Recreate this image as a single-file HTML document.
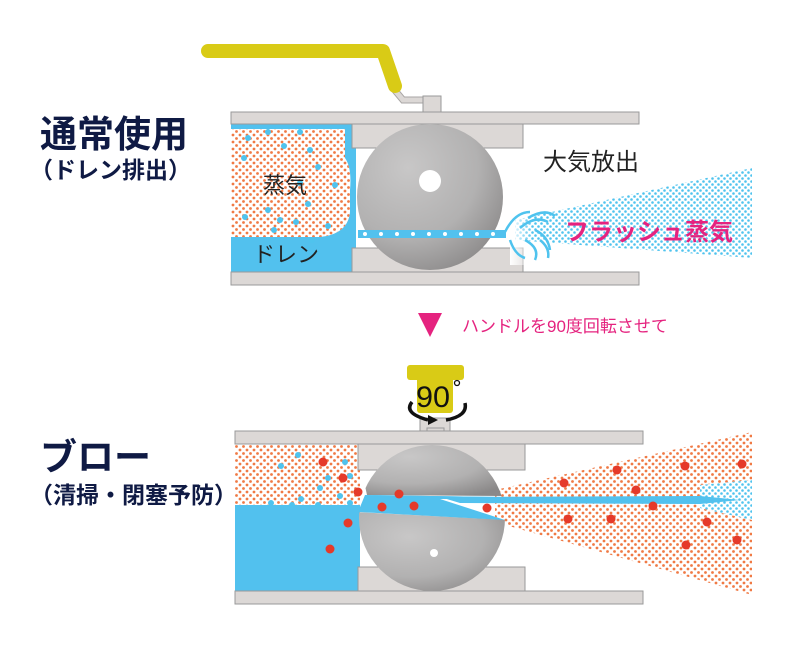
<!DOCTYPE html>
<html><head><meta charset="utf-8"><style>
html,body{margin:0;padding:0;background:#fff;}
svg{display:block;}
text{font-family:"Liberation Sans","Noto Sans CJK JP",sans-serif;}
</style></head><body>
<svg width="800" height="650" viewBox="0 0 800 650" xmlns="http://www.w3.org/2000/svg">
<defs>
<pattern id="od" width="7" height="7" patternUnits="userSpaceOnUse"><circle cx="2" cy="2" r="1.4" fill="#f07a45"/><circle cx="5.5" cy="5.5" r="1.4" fill="#f07a45"/></pattern>
<pattern id="bd" width="6" height="6" patternUnits="userSpaceOnUse"><circle cx="1.5" cy="1.5" r="1.3" fill="#4fc3ee"/><circle cx="4.5" cy="4.5" r="1.3" fill="#4fc3ee"/></pattern>
<radialGradient id="ball" cx="0.35" cy="0.3" r="0.8"><stop offset="0" stop-color="#c8c7c7"/><stop offset="0.6" stop-color="#b2b1b1"/><stop offset="1" stop-color="#8a8888"/></radialGradient>
<linearGradient id="fadeb" x1="0" x2="1"><stop offset="0" stop-color="#fff" stop-opacity="1"/><stop offset="0.25" stop-color="#fff" stop-opacity="0"/></linearGradient>
<clipPath id="bc"><circle cx="432" cy="518" r="73"/></clipPath>
</defs>

<text x="40" y="147" font-size="37" font-weight="bold" fill="#0f1a44">通常使用</text>
<text x="30" y="178" font-size="23" font-weight="bold" fill="#0f1a44">（ドレン排出）</text>
<text x="40" y="470" font-size="37" font-weight="bold" fill="#0f1a44">ブロー</text>
<text x="30" y="503" font-size="23" font-weight="bold" fill="#0f1a44">（清掃・閉塞予防）</text>

<!-- ===== TOP ===== -->
<path d="M393 88 L403 100 L430 100" fill="none" stroke="#a9a6a5" stroke-width="7"/>
<path d="M393 88 L403 100 L430 100" fill="none" stroke="#dcd8d6" stroke-width="5"/>
<rect x="423" y="96" width="18" height="16" fill="#dcd8d6" stroke="#999" stroke-width="1"/>
<path d="M208 51 L383 51 L395 86" fill="none" stroke="#d9cb16" stroke-width="14" stroke-linejoin="round" stroke-linecap="round"/>

<rect x="231" y="124" width="125" height="148" fill="#52c1ee"/>
<path d="M231 129 L345 129 L345 158 Q352 168 350 190 L350 212 Q348 234 320 237 L231 237 Z" fill="#fff"/>
<path d="M231 129 L345 129 L345 158 Q352 168 350 190 L350 212 Q348 234 320 237 L231 237 Z" fill="url(#od)"/>
<g fill="#4fc3ee">
<circle cx="248" cy="138" r="3"/><circle cx="268" cy="132" r="3"/><circle cx="284" cy="146" r="3"/><circle cx="300" cy="132" r="3"/><circle cx="310" cy="150" r="3"/><circle cx="318" cy="167" r="3"/><circle cx="300" cy="183" r="3"/><circle cx="308" cy="204" r="3"/><circle cx="335" cy="185" r="3"/><circle cx="268" cy="210" r="3"/><circle cx="280" cy="220" r="3"/><circle cx="296" cy="222" r="3"/><circle cx="245" cy="217" r="3"/><circle cx="274" cy="230" r="3"/><circle cx="328" cy="226" r="3"/><circle cx="244" cy="158" r="3"/><circle cx="312" cy="240" r="3"/>
</g>
<text x="263" y="193" font-size="22" fill="#222">蒸気</text>
<text x="253" y="262" font-size="22" fill="#222">ドレン</text>

<rect x="231" y="112" width="408" height="12" fill="#dcd8d6" stroke="#999" stroke-width="1"/>
<rect x="231" y="272" width="408" height="13" fill="#dcd8d6" stroke="#999" stroke-width="1"/>
<rect x="352" y="124" width="171" height="24" fill="#dcd8d6" stroke="#999" stroke-width="1"/>
<rect x="352" y="248" width="171" height="24" fill="#dcd8d6" stroke="#999" stroke-width="1"/>

<path d="M515 220 L752 168 L752 258 L515 240 Z" fill="url(#bd)"/>
<rect x="510" y="165" width="90" height="100" fill="url(#fadeb)"/>

<circle cx="430" cy="197" r="73" fill="url(#ball)"/>
<circle cx="430" cy="181" r="11" fill="#fff"/>
<rect x="358" y="230" width="148" height="8" fill="#52c1ee"/>
<g fill="#fff"><circle cx="365" cy="234" r="2"/><circle cx="381" cy="234" r="2"/><circle cx="397" cy="234" r="2"/><circle cx="413" cy="234" r="2"/><circle cx="429" cy="234" r="2"/><circle cx="445" cy="234" r="2"/><circle cx="461" cy="234" r="2"/><circle cx="477" cy="234" r="2"/><circle cx="493" cy="234" r="2"/></g>
<g fill="none" stroke="#4fc3ee" stroke-width="2.5">
<path d="M505 232 Q515 212 530 212"/><path d="M520 228 Q535 215 548 222"/><path d="M525 240 Q540 248 535 260"/><path d="M510 240 Q515 255 525 258"/><path d="M535 230 Q548 236 550 250"/><path d="M528 218 Q545 208 555 216"/><path d="M540 240 Q550 248 548 258"/>
</g>
<text x="543" y="170" font-size="24" fill="#222">大気放出</text>
<text x="565" y="240" font-size="24" font-weight="bold" fill="#e5237f">フラッシュ蒸気</text>

<polygon points="418,313 442,313 430,337" fill="#e5237f"/>
<text x="462" y="332" font-size="17" fill="#e5237f">ハンドルを90度回転させて</text>

<!-- ===== BOTTOM ===== -->
<rect x="420" y="418" width="30" height="13" fill="#dcd8d6" stroke="#999" stroke-width="1"/>
<rect x="427" y="428" width="17" height="9" fill="#dcd8d6" stroke="#999" stroke-width="1"/>
<rect x="407" y="365" width="57" height="15" rx="3" fill="#d9cb16"/>
<rect x="417" y="375" width="36" height="38" rx="3" fill="#d9cb16"/>
<text x="416" y="407" font-size="30" fill="#111" textLength="34" lengthAdjust="spacingAndGlyphs">90</text>
<circle cx="457" cy="383" r="2.5" fill="none" stroke="#111" stroke-width="1.3"/>
<path d="M412 402 Q403 413 428 420" fill="none" stroke="#111" stroke-width="3.5"/>
<path d="M446 420 Q468 416 465 403" fill="none" stroke="#111" stroke-width="3.5"/>
<polygon points="428,415 438,420 428,425" fill="#111"/>

<rect x="235" y="444" width="125" height="62" fill="url(#od)"/>
<rect x="235" y="505" width="125" height="86" fill="#52c1ee"/>
<path d="M495 490 L752 432 L752 595 L495 522 Z" fill="url(#od)"/>
<path d="M700 485 L752 480 L752 520 L700 508 Z" fill="#fff"/>
<path d="M700 485 L752 480 L752 520 L700 508 Z" fill="url(#bd)"/>
<path d="M440 497 L700 496 L740 500 L700 504 L460 503 Z" fill="#52c1ee"/>

<rect x="235" y="431" width="408" height="13" fill="#dcd8d6" stroke="#999" stroke-width="1"/>
<rect x="235" y="591" width="408" height="13" fill="#dcd8d6" stroke="#999" stroke-width="1"/>
<rect x="358" y="444" width="167" height="26" fill="#dcd8d6" stroke="#999" stroke-width="1"/>
<rect x="358" y="567" width="167" height="24" fill="#dcd8d6" stroke="#999" stroke-width="1"/>

<g clip-path="url(#bc)">
<path d="M355 440 L510 440 L510 496 L367 495 Z" fill="url(#ball)"/>
<path d="M355 512 L510 520 L510 595 L355 595 Z" fill="url(#ball)"/>
</g>
<path d="M365 495 L497 497 L440 499 L505 520 L358 512 Z" fill="#52c1ee"/>
<path d="M365 495 L497 497 L445 499 Z" fill="#52c1ee"/>
<circle cx="434" cy="553" r="4" fill="#fff"/>

<g fill="#4fc3ee">
<circle cx="281" cy="466" r="3"/><circle cx="298" cy="455" r="3"/><circle cx="345" cy="462" r="3"/><circle cx="328" cy="478" r="3"/><circle cx="350" cy="476" r="3"/><circle cx="320" cy="488" r="3"/><circle cx="340" cy="496" r="3"/><circle cx="301" cy="499" r="3"/><circle cx="318" cy="505" r="3"/><circle cx="271" cy="503" r="3"/><circle cx="292" cy="505" r="3"/><circle cx="350" cy="503" r="3"/>
</g>
<g fill="#e53a2a">
<circle cx="323" cy="462" r="4.5"/><circle cx="343" cy="478" r="4.5"/><circle cx="358" cy="492" r="4.5"/><circle cx="399" cy="494" r="4.5"/><circle cx="382" cy="507" r="4.5"/><circle cx="414" cy="506" r="4.5"/><circle cx="348" cy="523" r="4.5"/><circle cx="330" cy="549" r="4.5"/><circle cx="487" cy="508" r="4.5"/>
<circle cx="564" cy="483" r="4.5"/><circle cx="617" cy="470" r="4.5"/><circle cx="636" cy="490" r="4.5"/><circle cx="568" cy="519" r="4.5"/><circle cx="611" cy="519" r="4.5"/><circle cx="653" cy="506" r="4.5"/><circle cx="685" cy="466" r="4.5"/><circle cx="707" cy="522" r="4.5"/><circle cx="686" cy="545" r="4.5"/><circle cx="742" cy="464" r="4.5"/><circle cx="737" cy="540" r="4.5"/>
</g>
</svg>
</body></html>
